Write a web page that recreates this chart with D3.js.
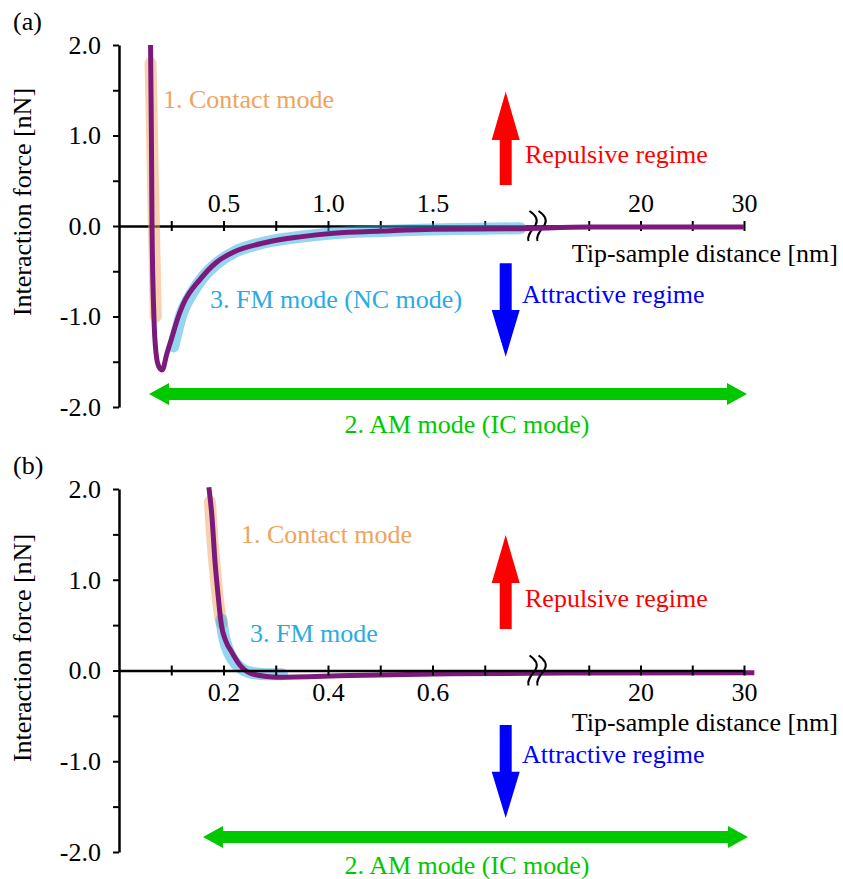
<!doctype html>
<html lang="en">
<head>
<meta charset="UTF-8" />
<script src="https://d3js.org/d3.v7.min.js"></script>
<title>Interaction force vs tip-sample distance</title>
<style>
  body { margin: 0; background: #fff; }
  svg text { font-family: "Liberation Serif", "DejaVu Serif", serif; }
</style>
</head>
<body>
<div id="chart"></div>
<script>
// ---- data: [distance nm, force nN] ----
// panel (a)
const forceA = [[0.151, 2.0], [0.155, 1.0], [0.158, 0.0], [0.167, -1.0], [0.177, -1.4], [0.19, -1.55],
  [0.207, -1.59], [0.228, -1.42], [0.252, -1.24], [0.284, -1.0], [0.308, -0.86], [0.388, -0.59],
  [0.467, -0.40], [0.547, -0.29], [0.707, -0.18], [0.866, -0.12], [1.025, -0.08], [1.265, -0.055],
  [1.504, -0.036], [1.90, -0.03], [15, -0.012], [30, -0.01]]
const contactA = [[0.151, 1.8], [0.176, -1.0]]
const fmA = [[0.26, -1.33], [0.30, -0.97], [0.35, -0.74], [0.40, -0.57], [0.47, -0.41], [0.55, -0.29],
  [0.70, -0.18], [0.90, -0.11], [1.10, -0.07], [1.40, -0.045], [1.92, -0.025]]

// panel (b)
const forceB = [[0.172, 2.02], [0.1774, 1.73], [0.184, 1.18], [0.190, 0.81], [0.196, 0.50], [0.204, 0.33],
  [0.216, 0.20], [0.232, 0.055], [0.251, -0.03], [0.283, -0.066], [0.302, -0.074], [0.442, -0.055],
  [0.634, -0.037], [0.79, -0.03], [15, -0.027], [31, -0.025]]
const contactB = [[0.174, 1.86], [0.178, 1.5], [0.184, 1.1], [0.190, 0.75], [0.196, 0.52]]
const fmB = [[0.196, 0.56], [0.200, 0.40], [0.207, 0.25], [0.218, 0.12], [0.232, 0.03], [0.25, -0.02],
  [0.28, -0.04], [0.312, -0.04]]

// ticks
const yTicks = [-2, -1.5, -1, -0.5, 0, 0.5, 1, 1.5, 2]
const yLabels = [-2, -1, 0, 1, 2]
const xTicksA = [0.25, 0.5, 0.75, 1, 1.25, 1.5, 1.75, 15, 20, 25, 30]
const xLabelsA = [0.5, 1, 1.5, 20, 30]
const xTicksB = [0.1, 0.2, 0.3, 0.4, 0.5, 0.6, 0.7, 15, 20, 25, 30]
const xLabelsB = [0.2, 0.4, 0.6, 20, 30]
// broken axis: first segment ends at the break, second starts at 10 nm
const xDomainA = [0, 2, 10, 30]
const xDomainB = [0, 0.8, 10, 30]

// ---- styling ----
const FONT = "Liberation Serif, DejaVu Serif, serif"
const FS = 26
const PURPLE = "#7b1a7b"
const ORANGE = "#f0a35e"
const SKY = "#29abe2"
const GREEN = "#00c800"

const W = 843, H = 879
const left = 119, breakPx = 537, right = 744

const svg = d3.select("#chart").append("svg")
  .attr("width", W).attr("height", H)
  .attr("font-family", FONT)

const panels = [
  {
    tag: "(a)", tagY: 30, top: 45, bottom: 407, xDomain: xDomainA,
    force: forceA, contact: contactA, fm: fmA,
    xTicks: xTicksA, xLabels: xLabelsA, labelsAbove: true, axisOnTop: false,
    yLabelCenter: 202, xTitleY: 262,
    contactText: { x: 163, y: 108, t: "1. Contact mode" },
    fmText: { x: 210, y: 308, t: "3. FM mode (NC mode)" },
    red: { base: 185, head: 140, tip: 91.7 }, blue: { base: 263.3, head: 310, tip: 356.7 },
    repY: 163, attY: 303,
    green: { x1: 149, x2: 747, y: 394 }, amY: 433
  },
  {
    tag: "(b)", tagY: 474, top: 489, bottom: 852, xDomain: xDomainB,
    force: forceB, contact: contactB, fm: fmB,
    xTicks: xTicksB, xLabels: xLabelsB, labelsAbove: false, axisOnTop: true,
    yLabelCenter: 648, xTitleY: 731,
    contactText: { x: 241, y: 543, t: "1. Contact mode" },
    fmText: { x: 250, y: 642, t: "3. FM mode" },
    red: { base: 629, head: 583, tip: 535 }, blue: { base: 725, head: 771.7, tip: 818 },
    repY: 607, attY: 763,
    green: { x1: 203, x2: 748, y: 837 }, amY: 874
  }
]

const arrowX = 505.7

function vArrow(g, base, head, tip, color) {
  const sw = 6, hw = 14
  const pts = [[arrowX - sw, base], [arrowX - sw, head], [arrowX - hw, head], [arrowX, tip],
    [arrowX + hw, head], [arrowX + sw, head], [arrowX + sw, base]]
  g.append("polygon").attr("points", pts.map(p => p.join(",")).join(" ")).attr("fill", color)
}

function hArrow(g, x1, x2, y, color) {
  const sw = 6, hh = 11, hl = 20
  const pts = [[x1, y], [x1 + hl, y - hh], [x1 + hl, y - sw], [x2 - hl, y - sw], [x2 - hl, y - hh], [x2, y],
    [x2 - hl, y + hh], [x2 - hl, y + sw], [x1 + hl, y + sw], [x1 + hl, y + hh]]
  g.append("polygon").attr("points", pts.map(p => p.join(",")).join(" ")).attr("fill", color)
}

function drawAxes(g, p, x, y) {
  // y axis
  const ya = g.append("g")
    .attr("transform", `translate(${left},0)`)
    .call(d3.axisLeft(y).tickValues(yTicks).tickSize(6).tickSizeOuter(0).tickPadding(12)
      .tickFormat(d => yLabels.includes(d) ? d.toFixed(1) : ""))
  // x axis
  const axisFn = p.labelsAbove ? d3.axisTop(x) : d3.axisBottom(x)
  const xa = g.append("g")
    .attr("transform", `translate(0,${y(0)})`)
    .call(axisFn.tickValues(p.xTicks).tickSize(5).tickSizeOuter(0).tickPadding(p.labelsAbove ? 9 : 7)
      .tickFormat(d => p.xLabels.includes(d) ? (d >= 10 ? String(d) : d.toFixed(1)) : ""))
  xa.selectAll(".tick line").attr("y1", p.labelsAbove ? 5 : -5)

  for (const a of [ya, xa]) {
    a.attr("font-family", FONT).attr("font-size", FS)
    a.select(".domain").attr("stroke", "#000").attr("stroke-width", 2.5)
    a.selectAll(".tick line").attr("stroke", "#000").attr("stroke-width", 2)
    a.selectAll(".tick text").attr("fill", "#000")
  }

  // break marks
  const bk = g.append("g").attr("transform", `translate(${breakPx},${y(0)})`)
  for (const dx of [-4.5, 4.5]) {
    bk.append("path")
      .attr("d", `M${dx - 3},-15 C${dx + 3},-11 ${dx + 6},-6 ${dx + 3},-1 C${dx},4 ${dx - 6},9 ${dx - 4},15`)
      .attr("fill", "none").attr("stroke", "#000").attr("stroke-width", 2)
  }
}

panels.forEach(p => {
  const x = d3.scaleLinear().domain(p.xDomain).range([left, breakPx, breakPx, right])
  const y = d3.scaleLinear().domain([-2, 2]).range([p.bottom, p.top])
  const g = svg.append("g")

  g.append("text").attr("x", 13).attr("y", p.tagY).attr("font-size", FS).text(p.tag)

  const line = d3.line().x(d => x(d[0])).y(d => y(d[1])).curve(d3.curveMonotoneX)

  if (!p.axisOnTop) drawAxes(g, p, x, y)

  g.append("path").datum(p.contact).attr("d", line)
    .attr("fill", "none").attr("stroke", ORANGE).attr("stroke-opacity", 0.5)
    .attr("stroke-width", 12).attr("stroke-linecap", "round").attr("stroke-linejoin", "round")
  g.append("path").datum(p.fm).attr("d", line)
    .attr("fill", "none").attr("stroke", SKY).attr("stroke-opacity", 0.5)
    .attr("stroke-width", 12).attr("stroke-linecap", "round").attr("stroke-linejoin", "round")
  g.append("path").datum(p.force).attr("d", line)
    .attr("fill", "none").attr("stroke", PURPLE).attr("stroke-width", 5)
    .attr("stroke-linejoin", "round")

  if (p.axisOnTop) drawAxes(g, p, x, y)

  // axis titles
  g.append("text")
    .attr("transform", `translate(31,${p.yLabelCenter}) rotate(-90)`)
    .attr("text-anchor", "middle").attr("font-size", FS)
    .text("Interaction force [nN]")
  g.append("text").attr("x", 838).attr("y", p.xTitleY)
    .attr("text-anchor", "end").attr("font-size", FS)
    .text("Tip-sample distance [nm]")

  // mode labels
  g.append("text").attr("x", p.contactText.x).attr("y", p.contactText.y)
    .attr("font-size", FS).attr("fill", ORANGE).text(p.contactText.t)
  g.append("text").attr("x", p.fmText.x).attr("y", p.fmText.y)
    .attr("font-size", FS).attr("fill", SKY).text(p.fmText.t)

  // regime arrows
  vArrow(g, p.red.base, p.red.head, p.red.tip, "#ff0000")
  vArrow(g, p.blue.base, p.blue.head, p.blue.tip, "#0000ff")
  g.append("text").attr("x", 525).attr("y", p.repY).attr("font-size", FS)
    .attr("fill", "#ff0000").text("Repulsive regime")
  g.append("text").attr("x", 522).attr("y", p.attY).attr("font-size", FS)
    .attr("fill", "#0000ff").text("Attractive regime")

  // AM mode span
  hArrow(g, p.green.x1, p.green.x2, p.green.y, GREEN)
  g.append("text").attr("x", 467).attr("y", p.amY).attr("text-anchor", "middle")
    .attr("font-size", FS).attr("fill", GREEN).text("2. AM mode (IC mode)")
})
</script>
</body>
</html>
